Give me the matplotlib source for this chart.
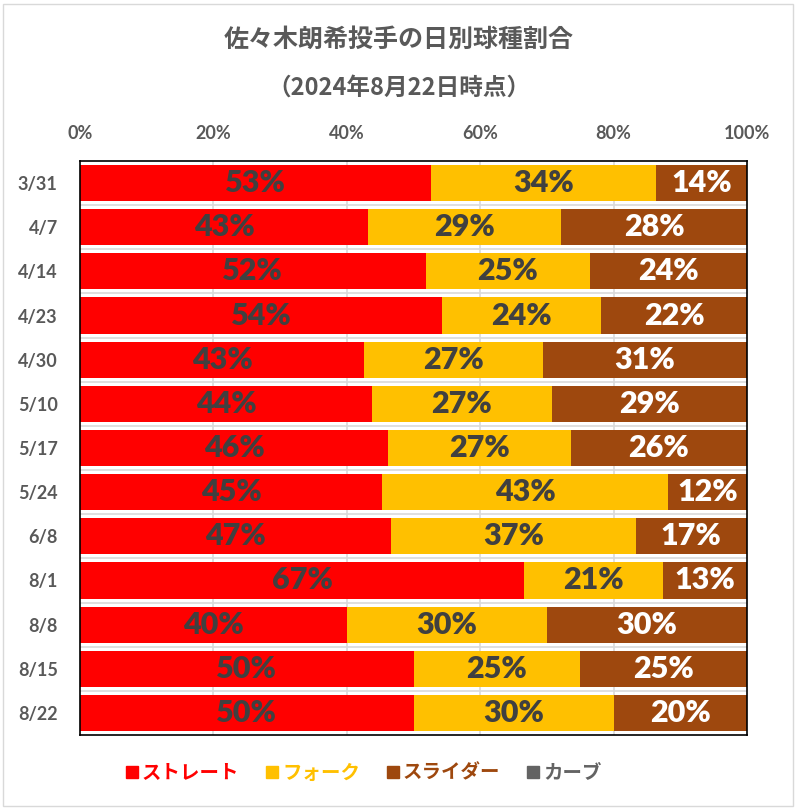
import numpy as np
import matplotlib.pyplot as plt
from matplotlib.lines import Line2D
from matplotlib.patches import Rectangle

plt.rcParams['font.family'] = ['Lato', 'Noto Sans CJK JP', 'DejaVu Sans']

dias = ['3/31', '4/7', '4/14', '4/23', '4/30', '5/10', '5/17',
        '5/24', '6/8', '8/1', '8/8', '8/15', '8/22']

# 球種割合 (%)
straight = [52.6, 43.2, 51.8, 54.3, 42.6, 43.8, 46.2, 45.3, 46.7, 66.6, 40.0, 50.0, 50.0]
fork     = [33.7, 28.9, 24.6, 23.8, 26.8, 26.9, 27.4, 42.9, 36.6, 20.8, 30.0, 25.0, 30.0]
slider   = [13.7, 27.9, 23.6, 21.9, 30.6, 29.3, 26.4, 11.8, 16.7, 12.6, 30.0, 25.0, 20.0]
curve    = [0, 0, 0, 0, 0, 0, 0, 0, 0, 0, 0, 0, 0]

series = [
    ('ストレート', straight, '#FF0000', '#404040'),
    ('フォーク', fork, '#FFC000', '#404040'),
    ('スライダー', slider, '#9E480E', 'white'),
    ('カーブ', curve, '#636363', 'white'),
]

cinza = '#595959'
cjk = ['Noto Sans CJK JP', 'DejaVu Sans']

fig = plt.figure(figsize=(7.97, 8.10), dpi=100)
fig.patches.append(Rectangle((3 / 797, 4 / 810), 790 / 797, 802 / 810, transform=fig.transFigure,
                             fill=False, edgecolor='#d9d9d9', linewidth=1))

ax = fig.add_axes([80 / 797, 75 / 810, 667 / 797, 574 / 810])

y = np.arange(len(dias))
left = np.zeros(len(dias))
for nome, vals, cor, cor_txt in series:
    vals = np.array(vals, dtype=float)
    bars = ax.barh(y, vals, left=left, height=0.82, color=cor, label=nome, zorder=2)
    labels = [f'{v:.0f}%' if v > 0 else '' for v in vals]
    ax.bar_label(bars, labels=labels, label_type='center', color=cor_txt,
                 fontsize=22, fontweight='heavy', family=['Lato', 'DejaVu Sans'])
    left += vals

ax.set_xlim(0, 100)
ax.set_ylim(len(dias) - 0.5, -0.5)
ax.set_yticks(y)
ax.set_yticklabels(dias)
ax.set_xticks(np.arange(0, 101, 20))
ax.set_xticklabels([f'{t}%' for t in range(0, 101, 20)])
ax.xaxis.tick_top()
ax.tick_params(axis='x', length=0, pad=14, labelsize=13, labelcolor=cinza)
ax.tick_params(axis='y', length=0, pad=16, labelsize=13, labelcolor=cinza)
for lab in ax.get_xticklabels() + ax.get_yticklabels():
    lab.set_fontweight('bold')

# linhas de grade
for xv in range(20, 100, 20):
    ax.axvline(xv, color='#d9d9d9', linewidth=1.2, zorder=1)
for yv in np.arange(0.5, len(dias) - 0.5, 1):
    ax.axhline(yv, color='#d9d9d9', linewidth=1.2, zorder=1)
for s in ax.spines.values():
    s.set_color('black')
    s.set_linewidth(1.2)
    s.set_zorder(3)

fig.text(0.5, 1 - 40 / 810, '佐々木朗希投手の日別球種割合', ha='center', va='center',
         fontsize=18, fontweight='bold', color=cinza, family=cjk)
fig.text(0.5, 1 - 88 / 810, '（2024年8月22日時点）', ha='center', va='center',
         fontsize=17, fontweight='bold', color=cinza, family=cjk)

handles = [Line2D([], [], marker='s', linestyle='', markersize=9, color=c)
           for _, _, c, _ in series]
leg = fig.legend(handles, [s[0] for s in series], loc='center', ncol=4,
                 bbox_to_anchor=(362 / 797, 1 - 773 / 810), frameon=False,
                 handletextpad=0.0, columnspacing=1.2, handlelength=1.0,
                 prop={'family': cjk, 'size': 14, 'weight': 'bold'})
for txt, (_, _, c, _) in zip(leg.get_texts(), series):
    txt.set_color(c)

plt.savefig('out.png', dpi=100)
